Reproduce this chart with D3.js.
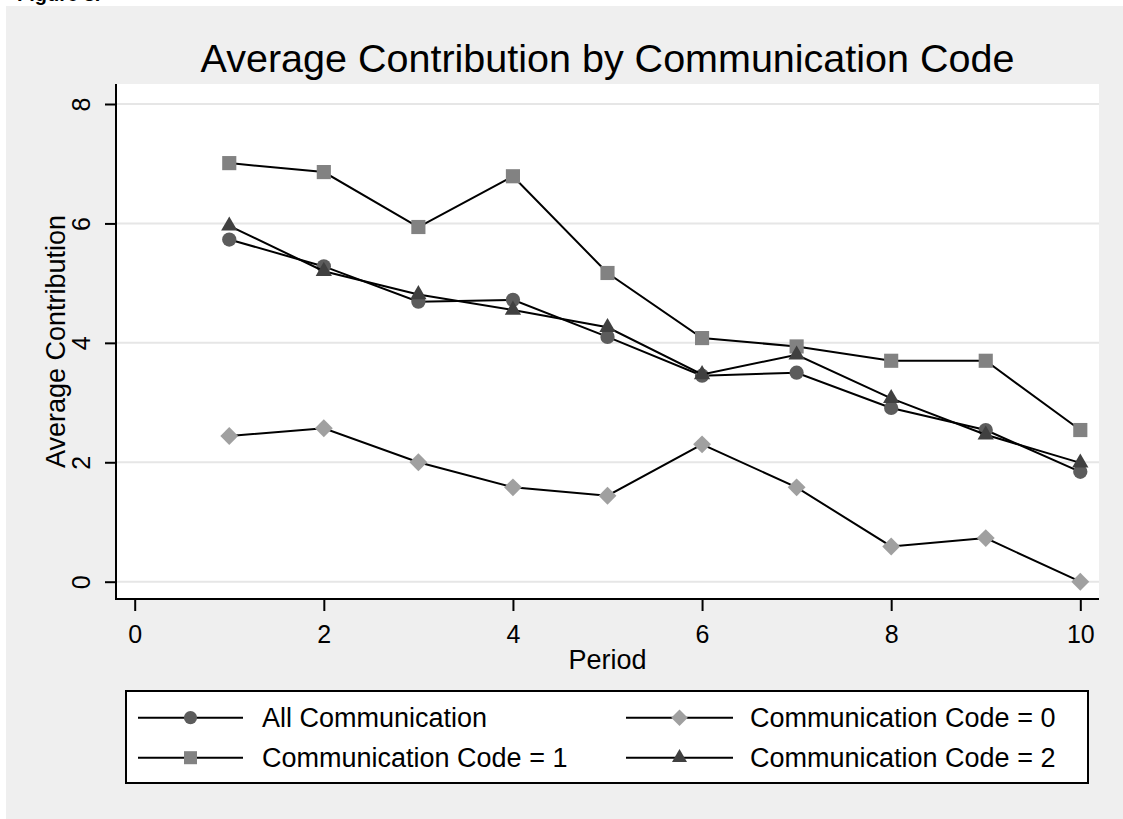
<!DOCTYPE html>
<html>
<head>
<meta charset="utf-8">
<script src="https://cdn.jsdelivr.net/npm/d3@7"></script>
<style>
  body { margin: 0; background: #ffffff; }
  text { font-family: "Liberation Sans", Arial, sans-serif; }
</style>
</head>
<body>
<div id="chart"></div>
<script>
const periods = [1, 2, 3, 4, 5, 6, 7, 8, 9, 10];
const allComm = [5.73, 5.28, 4.69, 4.72, 4.10, 3.45, 3.50, 2.91, 2.54, 1.84];
const code0   = [2.44, 2.57, 2.00, 1.58, 1.44, 2.30, 1.58, 0.59, 0.73, 0.00];
const code1   = [7.01, 6.86, 5.94, 6.79, 5.17, 4.08, 3.94, 3.70, 3.70, 2.54];
const code2   = [5.96, 5.20, 4.81, 4.55, 4.26, 3.47, 3.80, 3.07, 2.46, 1.99];
const seriesNames = ["All Communication", "Communication Code = 0",
                     "Communication Code = 1", "Communication Code = 2"];
const xTicks = [0, 2, 4, 6, 8, 10];
const yTicks = [0, 2, 4, 6, 8];

const W = 1123, H = 819;

// marker styles per series
const markers = [
  { type: d3.symbolCircle, size: 160, fill: "#5c5c5c", rotate: 0 },
  { type: d3.symbolSquare, size: 160, fill: "#a0a0a0", rotate: 45 },
  { type: d3.symbolSquare, size: 200, fill: "#828282", rotate: 0 },
  { type: d3.symbolTriangle, size: 115, fill: "#404040", rotate: 0 }
];

const series = [allComm, code0, code1, code2].map((vals, i) => ({
  name: seriesNames[i],
  marker: markers[i],
  values: periods.map((p, j) => ({ x: p, y: vals[j] }))
}));

const svg = d3.select("#chart")
  .append("svg")
  .attr("width", W)
  .attr("height", H);

// caption from the page above, mostly cut off
svg.append("text")
  .attr("x", 17)
  .attr("y", 1)
  .attr("font-family", "Liberation Serif, serif")
  .attr("font-weight", "bold")
  .attr("font-size", "20px")
  .text("Figure 3.");

// outer graph region
svg.append("rect")
  .attr("x", 6).attr("y", 6)
  .attr("width", W - 6).attr("height", H - 6)
  .attr("fill", "#efefef");

const plot = { left: 116, right: 1099, top: 84, bottom: 599 };

const x = d3.scaleLinear().domain([0, 10]).range([134.7, 1080.3]);
const y = d3.scaleLinear().domain([0, 8]).range([581.7, 104]);

svg.append("rect")
  .attr("x", plot.left).attr("y", plot.top)
  .attr("width", plot.right - plot.left)
  .attr("height", plot.bottom - plot.top)
  .attr("fill", "#ffffff");

// gridlines
svg.append("g")
  .selectAll("line")
  .data(yTicks)
  .join("line")
  .attr("x1", plot.left).attr("x2", plot.right)
  .attr("y1", d => y(d)).attr("y2", d => y(d))
  .attr("stroke", "#e6e6e6")
  .attr("stroke-width", 2);

// Title
svg.append("text")
  .attr("x", (plot.left + plot.right) / 2)
  .attr("y", 71.5)
  .attr("text-anchor", "middle")
  .attr("font-size", "39.5px")
  .text("Average Contribution by Communication Code");

// y axis
const yAxis = svg.append("g")
  .attr("transform", `translate(${plot.left},0)`)
  .call(d3.axisLeft(y).tickValues(yTicks).tickSize(11).tickPadding(8).tickSizeOuter(0));
yAxis.select(".domain").remove();
yAxis.selectAll(".tick line").attr("stroke", "#000").attr("stroke-width", 2);
yAxis.selectAll(".tick text")
  .attr("font-size", "25px")
  .attr("fill", "#000")
  .attr("x", 0).attr("dy", 0)
  .attr("text-anchor", "middle")
  .attr("transform", "translate(-26,0) rotate(-90)");

svg.append("line")
  .attr("x1", plot.left).attr("x2", plot.left)
  .attr("y1", plot.top).attr("y2", plot.bottom + 1)
  .attr("stroke", "#000").attr("stroke-width", 2);

// x axis
const xAxis = svg.append("g")
  .attr("transform", `translate(0,${plot.bottom})`)
  .call(d3.axisBottom(x).tickValues(xTicks).tickSize(12).tickPadding(8).tickSizeOuter(0));
xAxis.select(".domain").remove();
xAxis.selectAll(".tick line").attr("stroke", "#000").attr("stroke-width", 2);
xAxis.selectAll(".tick text")
  .attr("font-size", "25px")
  .attr("fill", "#000")
  .attr("dy", 0)
  .attr("y", 44);

svg.append("line")
  .attr("x1", plot.left - 1).attr("x2", plot.right)
  .attr("y1", plot.bottom).attr("y2", plot.bottom)
  .attr("stroke", "#000").attr("stroke-width", 2);

// axis titles
svg.append("text")
  .attr("x", (plot.left + plot.right) / 2)
  .attr("y", 669)
  .attr("text-anchor", "middle")
  .attr("font-size", "27px")
  .text("Period");

svg.append("text")
  .attr("transform", `translate(65,${(plot.top + plot.bottom) / 2}) rotate(-90)`)
  .attr("text-anchor", "middle")
  .attr("font-size", "27px")
  .text("Average Contribution");

// lines + markers
const line = d3.line().x(d => x(d.x)).y(d => y(d.y));

series.forEach(s => {
  const g = svg.append("g");
  g.append("path")
    .datum(s.values)
    .attr("d", line)
    .attr("fill", "none")
    .attr("stroke", "#000")
    .attr("stroke-width", 2);
  g.selectAll("path.marker")
    .data(s.values)
    .join("path")
    .attr("class", "marker")
    .attr("d", d3.symbol().type(s.marker.type).size(s.marker.size))
    .attr("transform", d => `translate(${x(d.x)},${y(d.y)}) rotate(${s.marker.rotate})`)
    .attr("fill", s.marker.fill);
});

// legend
const legend = svg.append("g");
legend.append("rect")
  .attr("x", 126).attr("y", 691)
  .attr("width", 962).attr("height", 92)
  .attr("fill", "#fff")
  .attr("stroke", "#000")
  .attr("stroke-width", 2);

const legendPos = [
  { lx1: 138, lx2: 243, tx: 262, cy: 717.7 },
  { lx1: 626, lx2: 733, tx: 750, cy: 717.7 },
  { lx1: 138, lx2: 243, tx: 262, cy: 757.7 },
  { lx1: 626, lx2: 733, tx: 750, cy: 757.7 }
];

series.forEach((s, i) => {
  const p = legendPos[i];
  const item = legend.append("g");
  item.append("line")
    .attr("x1", p.lx1).attr("x2", p.lx2)
    .attr("y1", p.cy).attr("y2", p.cy)
    .attr("stroke", "#000").attr("stroke-width", 2);
  item.append("path")
    .attr("d", d3.symbol().type(s.marker.type).size(s.marker.size * 0.85))
    .attr("transform", `translate(${(p.lx1 + p.lx2) / 2},${p.cy}) rotate(${s.marker.rotate})`)
    .attr("fill", s.marker.fill);
  item.append("text")
    .attr("x", p.tx)
    .attr("y", p.cy + 9.5)
    .attr("font-size", "27px")
    .text(s.name);
});
</script>
</body>
</html>
